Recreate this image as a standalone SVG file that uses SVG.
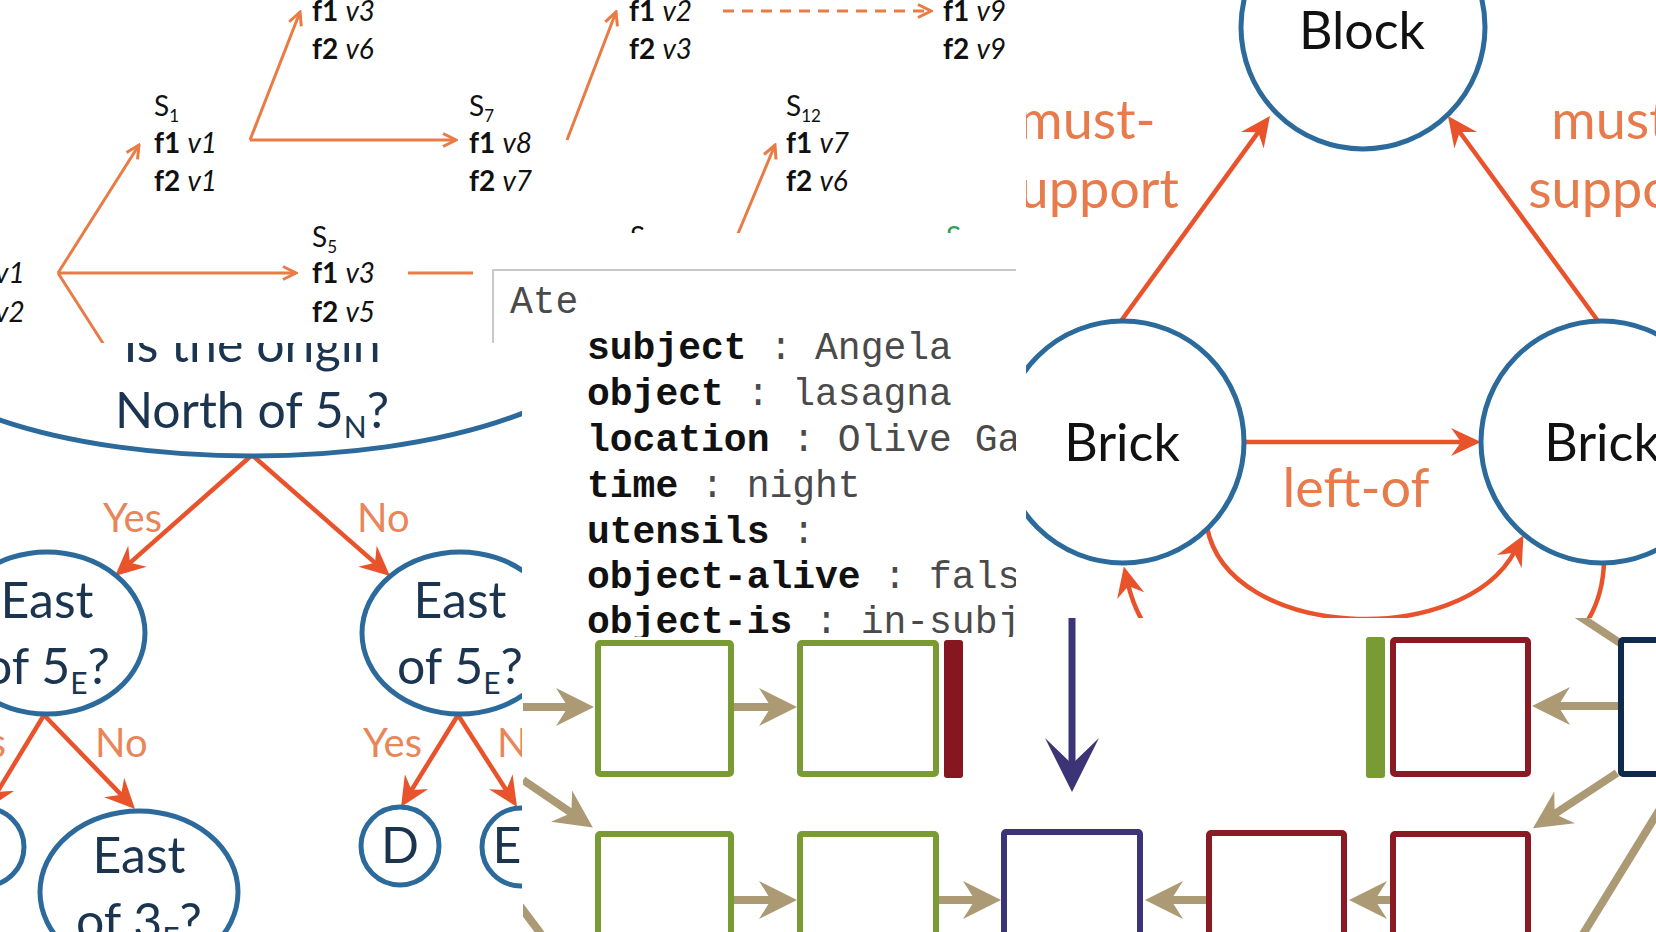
<svg xmlns="http://www.w3.org/2000/svg" width="1656" height="932" viewBox="0 0 1656 932">
<style>
.sa{font-family:Lato,"Liberation Sans",sans-serif;font-size:28px;fill:#111}
.b{font-weight:bold}
.i{font-style:italic}
.mono{font-family:"Liberation Mono","Courier New",monospace;font-size:38px;fill:#4a4a4a}
.key{font-weight:bold;fill:#111}
.tree{font-family:Lato,"Liberation Sans",sans-serif;font-size:50px;fill:#1B3550;text-anchor:middle}
.yn{font-family:Lato,"Liberation Sans",sans-serif;font-size:40px;fill:#E8865A}
.dl{font-family:Lato,"Liberation Sans",sans-serif;font-size:54px;fill:#E87B4C;text-anchor:middle}
.dn{font-family:Lato,"Liberation Sans",sans-serif;font-size:52px;fill:#111;text-anchor:middle}
.circ{fill:#fff;stroke:#2C6A9C;stroke-width:5}
.red{stroke:#E9532B;stroke-width:4.5;fill:none}
.org{stroke:#E97B45;stroke-width:3;fill:none}
.tan{stroke:#AC9A74;stroke-width:8;fill:none}
.box{fill:#fff;stroke-width:6}
.grn{stroke:#7A9A34}
.mar{stroke:#8A1A24}
</style>
<defs>
<clipPath id="clipA"><rect x="0" y="0" width="1005" height="400"/></clipPath>
<clipPath id="clipB"><rect x="473" y="233" width="543" height="404"/></clipPath>
<clipPath id="clipC"><rect x="0" y="343" width="522" height="589"/></clipPath>
<clipPath id="clipD"><rect x="1026" y="0" width="630" height="618"/></clipPath>
<clipPath id="clipE"><rect x="523" y="618" width="1133" height="314"/></clipPath>
<marker id="openArr" viewBox="0 0 16 16" refX="14" refY="8" markerWidth="16" markerHeight="16" markerUnits="userSpaceOnUse" orient="auto">
<path d="M1,1.5 L14,8 L1,14.5" fill="none" stroke="#E97B45" stroke-width="3"/>
</marker>
<marker id="stealth" viewBox="0 0 30 28" refX="12" refY="14" markerWidth="30" markerHeight="28" markerUnits="userSpaceOnUse" orient="auto">
<path d="M0,0 L30,14 L0,28 L10,14 Z" fill="#E9532B"/>
</marker>
<marker id="tanArr" viewBox="0 0 38 38" refX="14" refY="19" markerWidth="38" markerHeight="38" markerUnits="userSpaceOnUse" orient="auto">
<path d="M0,0 L38,19 L0,38 L12,19 Z" fill="#AC9A74"/>
</marker>
<marker id="navyArr" viewBox="0 0 54 54" refX="28" refY="27" markerWidth="54" markerHeight="54" markerUnits="userSpaceOnUse" orient="auto">
<path d="M0,0 L54,27 L0,54 L26,27 Z" fill="#3B3577"/>
</marker>
</defs>
<rect x="0" y="0" width="1656" height="932" fill="#fff"/>

<!-- Panel A: state space -->
<g id="panel-state-space" clip-path="url(#clipA)">
<g id="connectors-A">
<line class="org" x1="58" y1="273" x2="139" y2="145" marker-end="url(#openArr)"/>
<line class="org" x1="58" y1="273" x2="296" y2="273" marker-end="url(#openArr)"/>
<line class="org" x1="58" y1="273" x2="106" y2="348"/>
<line class="org" x1="250" y1="140" x2="300" y2="12" marker-end="url(#openArr)"/>
<line class="org" x1="250" y1="140" x2="456" y2="140" marker-end="url(#openArr)"/>
<line class="org" x1="408" y1="273" x2="490" y2="273"/>
<line class="org" x1="567" y1="140" x2="616" y2="12" marker-end="url(#openArr)"/>
<line class="org" x1="723" y1="11" x2="931" y2="11" stroke-dasharray="11 8" marker-end="url(#openArr)"/>
<line class="org" x1="737" y1="236" x2="775" y2="145" marker-end="url(#openArr)"/>
</g>
<g id="node-s0"><text class="sa i" x="-5" y="283">v1</text><text class="sa i" x="-5" y="322">v2</text></g>
<g id="node-top"><text class="sa" x="312" y="21"><tspan class="b">f1</tspan> <tspan class="i">v3</tspan></text><text class="sa" x="312" y="59"><tspan class="b">f2</tspan> <tspan class="i">v6</tspan></text></g>
<g id="node-s1"><text class="sa" x="154" y="116">S<tspan font-size="17" dy="6">1</tspan></text><text class="sa" x="154" y="153"><tspan class="b">f1</tspan> <tspan class="i">v1</tspan></text><text class="sa" x="154" y="191"><tspan class="b">f2</tspan> <tspan class="i">v1</tspan></text></g>
<g id="node-s5"><text class="sa" x="312" y="247">S<tspan font-size="17" dy="6">5</tspan></text><text class="sa" x="312" y="283"><tspan class="b">f1</tspan> <tspan class="i">v3</tspan></text><text class="sa" x="312" y="322"><tspan class="b">f2</tspan> <tspan class="i">v5</tspan></text></g>
<g id="node-s7"><text class="sa" x="469" y="116">S<tspan font-size="17" dy="6">7</tspan></text><text class="sa" x="469" y="153"><tspan class="b">f1</tspan> <tspan class="i">v8</tspan></text><text class="sa" x="469" y="191"><tspan class="b">f2</tspan> <tspan class="i">v7</tspan></text></g>
<g id="node-v2v3"><text class="sa" x="629" y="21"><tspan class="b">f1</tspan> <tspan class="i">v2</tspan></text><text class="sa" x="629" y="59"><tspan class="b">f2</tspan> <tspan class="i">v3</tspan></text></g>
<g id="node-s12"><text class="sa" x="786" y="116">S<tspan font-size="17" dy="6">12</tspan></text><text class="sa" x="786" y="153"><tspan class="b">f1</tspan> <tspan class="i">v7</tspan></text><text class="sa" x="786" y="191"><tspan class="b">f2</tspan> <tspan class="i">v6</tspan></text></g>
<g id="node-v9"><text class="sa" x="943" y="21"><tspan class="b">f1</tspan> <tspan class="i">v9</tspan></text><text class="sa" x="943" y="59"><tspan class="b">f2</tspan> <tspan class="i">v9</tspan></text></g>
<g id="node-s-low"><text class="sa" x="630" y="247">S</text><text class="sa" x="946" y="247" style="fill:#2DA05A">S</text></g>
</g>

<!-- Panel E: boxes -->
<g id="panel-boxes" clip-path="url(#clipE)">
<g id="connectors-E">
<line class="tan" x1="523" y1="707" x2="570" y2="707" marker-end="url(#tanArr)"/>
<line class="tan" x1="734" y1="707" x2="773" y2="707" marker-end="url(#tanArr)"/>
<line class="tan" x1="1618" y1="706" x2="1556" y2="706" marker-end="url(#tanArr)"/>
<line class="tan" x1="523" y1="780" x2="573" y2="814" marker-end="url(#tanArr)"/>
<line class="tan" x1="734" y1="900" x2="773" y2="900" marker-end="url(#tanArr)"/>
<line class="tan" x1="939" y1="900" x2="977" y2="900" marker-end="url(#tanArr)"/>
<line class="tan" x1="1206" y1="900" x2="1169" y2="900" marker-end="url(#tanArr)"/>
<line class="tan" x1="1390" y1="900" x2="1373" y2="900" marker-end="url(#tanArr)"/>
<line class="tan" x1="1617" y1="773" x2="1553" y2="815" marker-end="url(#tanArr)"/>
<line class="tan" x1="1620" y1="643" x2="1576" y2="614"/>
<line class="tan" x1="1660" y1="809" x2="1583" y2="934"/>
<line class="tan" x1="520" y1="906" x2="541" y2="934"/>
<line x1="1072" y1="616" x2="1072" y2="766" stroke="#3B3577" stroke-width="7" marker-end="url(#navyArr)"/>
</g>
<rect id="box-g1" class="box grn" x="598" y="643" width="133" height="131" rx="2"/>
<rect id="box-g2" class="box grn" x="800" y="643" width="136" height="131" rx="2"/>
<rect id="bar-red" x="944" y="640" width="19" height="138" rx="3" fill="#86161F"/>
<rect id="bar-green" x="1366" y="637" width="19" height="141" rx="3" fill="#7A9A34"/>
<rect id="box-m1" class="box mar" x="1393" y="640" width="135" height="134" rx="2"/>
<rect id="box-navy" class="box" stroke="#0F2B4C" x="1621" y="640" width="100" height="134" rx="2"/>
<rect id="box-g3" class="box grn" x="598" y="834" width="133" height="150" rx="2"/>
<rect id="box-g4" class="box grn" x="800" y="834" width="136" height="150" rx="2"/>
<rect id="box-indigo" class="box" stroke="#3B3577" x="1004" y="832" width="136" height="150" rx="2"/>
<rect id="box-m2" class="box mar" x="1209" y="833" width="135" height="150" rx="2"/>
<rect id="box-m3" class="box mar" x="1393" y="834" width="135" height="150" rx="2"/>
</g>

<!-- Panel B: Ate frame -->
<g id="panel-frame" clip-path="url(#clipB)">
<rect x="473" y="233" width="543" height="404" fill="#fff"/>
<path d="M493,400 L493,270 L1020,270" fill="none" stroke="#C8C8C8" stroke-width="2"/>
<g id="node-ate">
<text class="mono" x="510" y="313">Ate</text>
<text class="mono" x="587" y="359"><tspan class="key">subject</tspan> : Angela</text>
<text class="mono" x="587" y="405"><tspan class="key">object</tspan> : lasagna</text>
<text class="mono" x="587" y="451"><tspan class="key">location</tspan> : Olive Ga</text>
<text class="mono" x="587" y="497"><tspan class="key">time</tspan> : night</text>
<text class="mono" x="587" y="543"><tspan class="key">utensils</tspan> :</text>
<text class="mono" x="587" y="588"><tspan class="key">object-alive</tspan> : fals</text>
<text class="mono" x="587" y="633"><tspan class="key">object-is</tspan> : in-subj</text>
</g>
</g>

<!-- Panel C: decision tree -->
<g id="panel-tree" clip-path="url(#clipC)">
<rect x="0" y="343" width="522" height="589" fill="#fff"/>
<g id="connectors-C">
<line class="red" x1="252" y1="455" x2="128.5" y2="564.1" marker-end="url(#stealth)"/>
<line class="red" x1="252" y1="455" x2="376.5" y2="564.1" marker-end="url(#stealth)"/>
<line class="red" x1="44" y1="715" x2="-3.7" y2="793.6" marker-end="url(#stealth)"/>
<line class="red" x1="44" y1="715" x2="122.5" y2="796.1" marker-end="url(#stealth)"/>
<line class="red" x1="458" y1="715" x2="410.5" y2="791.7" marker-end="url(#stealth)"/>
<line class="red" x1="458" y1="715" x2="507.3" y2="791.8" marker-end="url(#stealth)"/>
<text class="yn" x="103" y="532">Yes</text>
<text class="yn" x="357" y="532">No</text>
<text class="yn" x="6" y="757" text-anchor="end">Yes</text>
<text class="yn" x="95" y="757">No</text>
<text class="yn" x="363" y="757">Yes</text>
<text class="yn" x="497" y="757">No</text>
</g>
<g id="node-root">
<ellipse class="circ" cx="252" cy="326" rx="365" ry="130"/>
<text class="tree" x="252" y="362">Is the origin</text>
<text class="tree" x="252" y="428">North of 5<tspan font-size="30" dy="10">N</tspan><tspan dy="-10">?</tspan></text>
</g>
<g id="node-left"><ellipse class="circ" cx="47" cy="633" rx="98" ry="81"/>
<text class="tree" x="47" y="618">East</text>
<text class="tree" x="47" y="684">of 5<tspan font-size="30" dy="10">E</tspan><tspan dy="-10">?</tspan></text></g>
<g id="node-right"><ellipse class="circ" cx="460" cy="633" rx="98" ry="81"/>
<text class="tree" x="460" y="618">East</text>
<text class="tree" x="460" y="684">of 5<tspan font-size="30" dy="10">E</tspan><tspan dy="-10">?</tspan></text></g>
<g id="node-ll"><circle class="circ" cx="-15" cy="847" r="39"/></g>
<g id="node-east3"><ellipse class="circ" cx="139" cy="892" rx="99" ry="81"/>
<text class="tree" x="139" y="873">East</text>
<text class="tree" x="139" y="939">of 3<tspan font-size="30" dy="10">E</tspan><tspan dy="-10">?</tspan></text></g>
<g id="node-d"><circle class="circ" cx="400" cy="846" r="39"/><text class="tree" x="400" y="863">D</text></g>
<g id="node-e"><circle class="circ" cx="521" cy="847" r="39"/><text class="tree" x="507" y="863" text-anchor="start">E</text></g>
</g>

<!-- Panel D: Block / Brick -->
<g id="panel-blocks" clip-path="url(#clipD)">
<rect x="1026" y="0" width="630" height="618" fill="#fff"/>
<g id="connectors-D">
<line class="red" x1="1121" y1="321" x2="1259.4" y2="130.6" marker-end="url(#stealth)"/>
<line class="red" x1="1598" y1="321" x2="1458.6" y2="130.5" marker-end="url(#stealth)"/>
<line class="red" x1="1244" y1="442" x2="1463" y2="442" marker-end="url(#stealth)"/>
<path class="red" d="M1207,527 C1228,640 1462,650 1515,551" marker-end="url(#stealth)"/>
<path class="red" d="M1143,622 Q1133,605 1128,584" marker-end="url(#stealth)"/>
<path class="red" d="M1604,562 Q1603,595 1588,620"/>
<text class="dl" x="1087" y="139">must-</text>
<text class="dl" x="1087" y="208">support</text>
<text class="dl" x="1620" y="139">must-</text>
<text class="dl" x="1620" y="208">support</text>
<text class="dl" x="1356" y="507">left-of</text>
</g>
<g id="node-block"><circle class="circ" cx="1363" cy="27" r="122"/><text class="dn" x="1362" y="49">Block</text></g>
<g id="node-brick-l"><circle class="circ" cx="1123" cy="442" r="121"/><text class="dn" x="1122" y="461">Brick</text></g>
<g id="node-brick-r"><circle class="circ" cx="1602" cy="442" r="121"/><text class="dn" x="1602" y="461">Brick</text></g>
</g>
</svg>
